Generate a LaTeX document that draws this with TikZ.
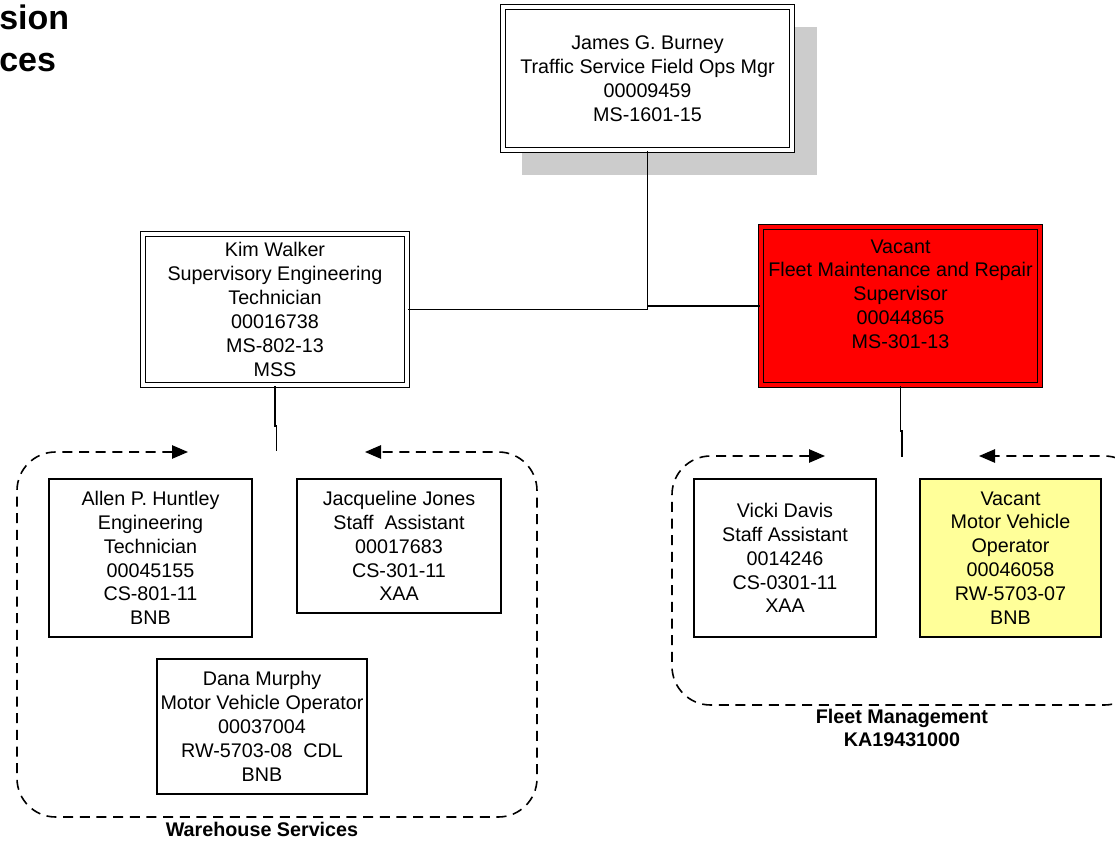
\documentclass[tikz,border=0pt]{standalone}
\usepackage{fontspec}
\setmainfont{Liberation Sans}
\usetikzlibrary{arrows.meta}
\definecolor{shadowgray}{RGB}{204,204,204}
\definecolor{paleyellow}{RGB}{255,255,153}
\tikzset{
  every node/.style={font=\fontsize{14.8}{17.9}\selectfont, align=center, inner sep=0pt},
  dbox/.style={draw, line width=1.2pt, double distance=2.5pt, double=white, fill=white},
  sbox/.style={draw, line width=1.4pt, fill=white},
  link/.style={line width=1.4pt},
  grouploop/.style={line width=1.2pt, dash pattern=on 7.5pt off 5pt, rounded corners=29pt,
    {Triangle[length=12pt,width=10pt]}-{Triangle[length=12pt,width=10pt]}},
  grouplabel/.style={font=\fontsize{14.8}{17.9}\selectfont\bfseries},
  titletext/.style={font=\fontsize{25.5}{31}\selectfont\bfseries, anchor=base west}
}
\begin{document}
\begin{tikzpicture}[x=0.75pt,y=-0.75pt]
\useasboundingbox (0,0) rectangle (1115,841);
\clip (0,0) rectangle (1115,841);
% title fragments
\node[titletext] (t1) at (-1,30) {sion};
\node[titletext] (t2) at (-1,72) {ces};
% shadow
\fill[shadowgray] (522,27) rectangle (817,175);
% boxes
\node[dbox, minimum width={289*0.75pt}, minimum height={143*0.75pt}] (james) at (647.5,78.5)
  {James G. Burney\\Traffic Service Field Ops Mgr\\00009459\\MS-1601-15};
\node[dbox, minimum width={264*0.75pt}, minimum height={151*0.75pt}] (kim) at (275,309.5)
  {Kim Walker\\Supervisory Engineering\\Technician\\00016738\\MS-802-13\\MSS};
\node[dbox, double=red, fill=red, minimum width={279*0.75pt}, minimum height={158*0.75pt}] (red) at (900.5,306)
  {Vacant\\Fleet Maintenance and Repair\\Supervisor\\00044865\\MS-301-13\\~};
\node[sbox, minimum width={203*0.75pt}, minimum height={158*0.75pt}] (allen) at (150.5,558)
  {Allen P. Huntley\\Engineering\\Technician\\00045155\\CS-801-11\\BNB};
\node[sbox, minimum width={204*0.75pt}, minimum height={134*0.75pt}] (jackie) at (399,546)
  {Jacqueline Jones\\Staff~ Assistant\\00017683\\CS-301-11\\XAA};
\node[sbox, minimum width={210*0.75pt}, minimum height={135*0.75pt}] (dana) at (262,726.5)
  {Dana Murphy\\Motor Vehicle Operator\\00037004\\RW-5703-08~ CDL\\BNB};
\node[sbox, minimum width={182*0.75pt}, minimum height={158*0.75pt}] (vicki) at (785,558)
  {Vicki Davis\\Staff Assistant\\0014246\\CS-0301-11\\XAA};
\node[sbox, fill=paleyellow, minimum width={181*0.75pt}, minimum height={158*0.75pt}] (mvo) at (1010.5,558)
  {Vacant\\Motor Vehicle\\Operator\\00046058\\RW-5703-07\\BNB};
% connectors
\draw[link] (james.south) |- (red.west);
\draw[link] (james.south) |- (kim.east);
\coordinate (kimtap) at (276.5,451);
\draw[link] (kim.south) -- ++(0,40) -| (kimtap);
\coordinate (redtap) at (902,457);
\draw[link] (red.south) -- ++(0,45) -| (redtap);
% group loops
\coordinate (wsL) at (188,452);
\coordinate (wsR) at (365,452);
\draw[grouploop] (wsL) -- (17,452) -- (17,817) -- (537,817) -- (537,452) -- (wsR);
\coordinate (fmL) at (825,456);
\coordinate (fmR) at (979,456);
\draw[grouploop] (fmL) -- (672,456) -- (672,705) -- (1143,705) -- (1143,456) -- (fmR);
% group labels
\node[grouplabel] (wslabel) at (262,829) {Warehouse Services};
\node[grouplabel] (fmlabel) at (902,728) {Fleet Management\\KA19431000};
\end{tikzpicture}
\end{document}
